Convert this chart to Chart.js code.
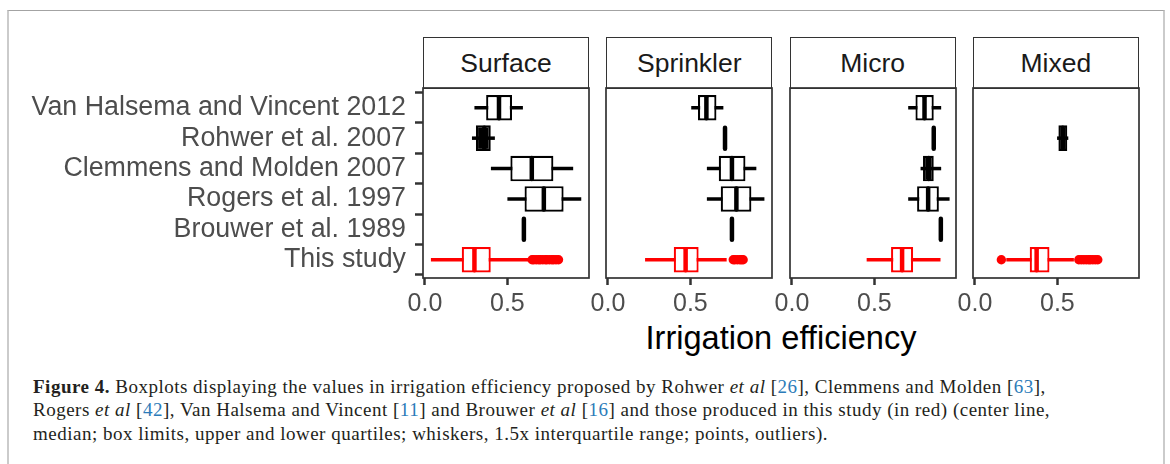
<!DOCTYPE html>
<html>
<head>
<meta charset="utf-8">
<script src="https://cdn.jsdelivr.net/npm/chart.js@4/dist/chart.umd.min.js"></script>
<style>
  html, body { margin: 0; padding: 0; background: #fff; }
  #fig { position: relative; width: 1170px; height: 464px; overflow: hidden; font-family: 'Liberation Sans', Arial, sans-serif; }
  #frame { position: absolute; left: 7px; top: 10px; width: 1154px; height: 470px; border-top: 1px solid #a3a3a3; border-left: 2px solid #cbcbcb; border-right: 2px solid #cbcbcb; }
  canvas { position: absolute; }
  .strip { position: absolute; top: 37px; height: 52px; box-sizing: border-box; border: 1.7px solid #333; background: #fff;
           display: flex; align-items: center; justify-content: center; font-size: 26.5px; color: #1a1a1a; }
  #xtitle { position: absolute; left: 423px; width: 716px; top: 322px; text-align: center; font-size: 32.6px; line-height: 32px; color: #000; }
  #caption { position: absolute; left: 33px; top: 375px; font-family: 'Liberation Serif', 'Times New Roman', serif; font-size: 19px;
             letter-spacing: 0.5px; line-height: 23.4px; color: #231f20; white-space: nowrap; }
  #caption .ref { color: #2b7bb9; }
</style>
</head>
<body>
<div id="fig">
  <div id="frame"></div>
  <div id="xtitle">Irrigation efficiency</div>
  <div id="caption">
    <b>Figure 4.</b> Boxplots displaying the values in irrigation efficiency proposed by Rohwer <i>et al</i> [<span class="ref">26</span>], Clemmens and Molden [<span class="ref">63</span>],<br>
    Rogers <i>et al</i> [<span class="ref">42</span>], Van Halsema and Vincent [<span class="ref">11</span>] and Brouwer <i>et al</i> [<span class="ref">16</span>] and those produced in this study (in red) (center line,<br>
    median; box limits, upper and lower quartiles; whiskers, 1.5x interquartile range; points, outliers).
  </div>
</div>
<script>
const categories = ['Van Halsema and Vincent 2012', 'Rohwer et al. 2007', 'Clemmens and Molden 2007',
                    'Rogers et al. 1997', 'Brouwer et al. 1989', 'This study'];
const facets = ['Surface', 'Sprinkler', 'Micro', 'Mixed'];
const xTicks = [0, 0.5];

// one row per facet, one value per category (null = no data)
const whiskerLow = [
  [0.30, 0.285, 0.40, 0.50, 0.60, 0.036],
  [0.505, 0.71, 0.60, 0.60, 0.752, 0.225],
  [0.705, 0.86, 0.78, 0.705, 0.903, 0.453],
  [null, 0.498, null, null, null, 0.19]
];
const lowerQuartile = [
  [0.371, 0.309, 0.518, 0.604, 0.60, 0.223],
  [0.546, 0.71, 0.672, 0.684, 0.752, 0.399],
  [0.749, 0.86, 0.795, 0.759, 0.903, 0.601],
  [null, 0.506, null, null, null, 0.332]
];
const median = [
  [0.449, 0.36, 0.648, 0.721, 0.60, 0.30],
  [0.597, 0.71, 0.752, 0.779, 0.752, 0.471],
  [0.804, 0.86, 0.83, 0.826, 0.903, 0.668],
  [null, 0.532, null, null, null, 0.374]
];
const upperQuartile = [
  [0.528, 0.399, 0.779, 0.841, 0.60, 0.399],
  [0.658, 0.71, 0.834, 0.87, 0.752, 0.55],
  [0.86, 0.86, 0.86, 0.891, 0.903, 0.735],
  [null, 0.56, null, null, null, 0.452]
];
const whiskerHigh = [
  [0.594, 0.424, 0.899, 0.948, 0.60, 0.63],
  [0.70, 0.71, 0.90, 0.949, 0.752, 0.72],
  [0.905, 0.86, 0.905, 0.956, 0.903, 0.901],
  [null, 0.566, null, null, null, 0.60]
];
// outliers of "This study", per facet
const studyOutliers = [
  [0.65, 0.66, 0.675, 0.69, 0.70, 0.715, 0.73, 0.74, 0.755, 0.77, 0.78, 0.795, 0.81],
  [0.76, 0.77, 0.785, 0.80, 0.81, 0.82],
  [],
  [0.16, 0.63, 0.645, 0.66, 0.675, 0.69, 0.70, 0.715, 0.73, 0.745]
];

// layout (px)
const PANEL_LEFT = 423, PANEL_W = 166, PANEL_GAP = 17.3, PANEL_TOP = 88, PANEL_H = 190;
const PAD = 25, PAD_TOP = 30, AXIS_H = 50;
const RED = '#ff0000', BLACK = '#000000';

function rowColor(y) {
  return categories[y - 1] === 'This study' ? RED : BLACK;
}

const panelFrame = {
  id: 'panelFrame',
  beforeDatasetsDraw(chart) {
    const a = chart.chartArea, ctx = chart.ctx;
    ctx.save();
    ctx.strokeStyle = '#333333';
    ctx.lineWidth = 1.7;
    ctx.strokeRect(a.left, a.top, a.right - a.left, a.bottom - a.top);
    ctx.restore();
    ctx.lineCap = 'round';
  },
  afterDatasetsDraw(chart) {
    chart.ctx.lineCap = 'butt';
  }
};

const fig = document.getElementById('fig');

facets.forEach((name, f) => {
  const panelX = PANEL_LEFT + f * (PANEL_W + PANEL_GAP);

  const strip = document.createElement('div');
  strip.className = 'strip';
  strip.style.left = panelX + 'px';
  strip.style.width = PANEL_W + 'px';
  strip.textContent = name;
  fig.appendChild(strip);

  const canvas = document.createElement('canvas');
  const first = f === 0;
  const cLeft = first ? 0 : panelX - PAD;
  const cWidth = first ? PANEL_LEFT + PANEL_W + PAD : PANEL_W + 2 * PAD;
  canvas.width = cWidth;
  canvas.height = PAD_TOP + PANEL_H + AXIS_H;
  canvas.style.left = cLeft + 'px';
  canvas.style.top = (PANEL_TOP - PAD_TOP) + 'px';
  fig.appendChild(canvas);

  const rows = categories.map((c, i) => i).filter(i => lowerQuartile[f][i] !== null);
  const whiskers = rows.map(i => ({ x: [whiskerLow[f][i], whiskerHigh[f][i]], y: i + 1 }));
  const boxes = rows.map(i => ({ x: [lowerQuartile[f][i], upperQuartile[f][i]], y: i + 1 }));
  const medians = rows.map(i => ({ x: median[f][i], y: i + 1 }));
  const studyRow = categories.indexOf('This study') + 1;
  const outliers = studyOutliers[f].map(v => ({ x: v, y: studyRow }));

  const colorOf = ctx => rowColor(ctx.raw.y);

  new Chart(canvas.getContext('2d'), {
    type: 'bar',
    data: {
      datasets: [
        {
          type: 'bar', data: whiskers, order: 3, grouped: false,
          barThickness: 3.5, backgroundColor: colorOf, borderWidth: 0, inflateAmount: 0
        },
        {
          type: 'bar', data: boxes, order: 2, grouped: false,
          barThickness: 25.6, borderWidth: 2.2, borderSkipped: false, inflateAmount: 0,
          borderColor: colorOf,
          // very narrow boxes render solid in the reference
          backgroundColor: ctx => (ctx.raw.x[1] - ctx.raw.x[0] < 0.1 ? rowColor(ctx.raw.y) : '#ffffff')
        },
        {
          type: 'scatter', data: medians, order: 1, showLine: false,
          pointStyle: 'line', pointRotation: 90, pointRadius: 10.5, pointBorderWidth: 4.5,
          pointBorderColor: colorOf, pointBackgroundColor: colorOf
        },
        {
          type: 'scatter', data: outliers, order: 0, showLine: false,
          pointStyle: 'circle', pointRadius: 4.7, pointBorderWidth: 0,
          pointBackgroundColor: RED, pointBorderColor: RED
        }
      ]
    },
    options: {
      indexAxis: 'y',
      responsive: false,
      animation: false,
      devicePixelRatio: 1,
      events: [],
      layout: { padding: { left: first ? 0 : PAD, right: PAD, top: PAD_TOP, bottom: 0 } },
      plugins: { legend: { display: false }, tooltip: { enabled: false } },
      scales: {
        x: {
          type: 'linear', min: -0.012, max: 0.995, offset: false,
          afterBuildTicks: s => { s.ticks = xTicks.map(v => ({ value: v })); },
          afterFit: s => { s.height = AXIS_H; },
          grid: { drawOnChartArea: false, drawTicks: true, tickLength: 7, tickWidth: 2.5, tickColor: '#333333' },
          border: { display: false },
          ticks: {
            autoSkip: false, maxRotation: 0, padding: 4, color: '#4d4d4d',
            font: { family: "'Liberation Sans', Arial, sans-serif", size: 25 },
            callback: v => v.toFixed(1)
          }
        },
        y: {
          type: 'linear', min: 0.35, max: 6.6, reverse: true, offset: false, display: first,
          afterBuildTicks: s => { s.ticks = categories.map((c, i) => ({ value: i + 1 })); },
          afterFit: s => { s.width = first ? PANEL_LEFT : 0; },
          grid: { drawOnChartArea: false, drawTicks: true, tickLength: 8, tickWidth: 2.5, tickColor: '#333333' },
          border: { display: false },
          ticks: {
            autoSkip: false, padding: 9, color: '#4d4d4d',
            font: { family: "'Liberation Sans', Arial, sans-serif", size: 26.8, lineHeight: 1 },
            callback: v => categories[v - 1]
          }
        }
      }
    },
    plugins: [panelFrame]
  });
});
</script>
</body>
</html>
